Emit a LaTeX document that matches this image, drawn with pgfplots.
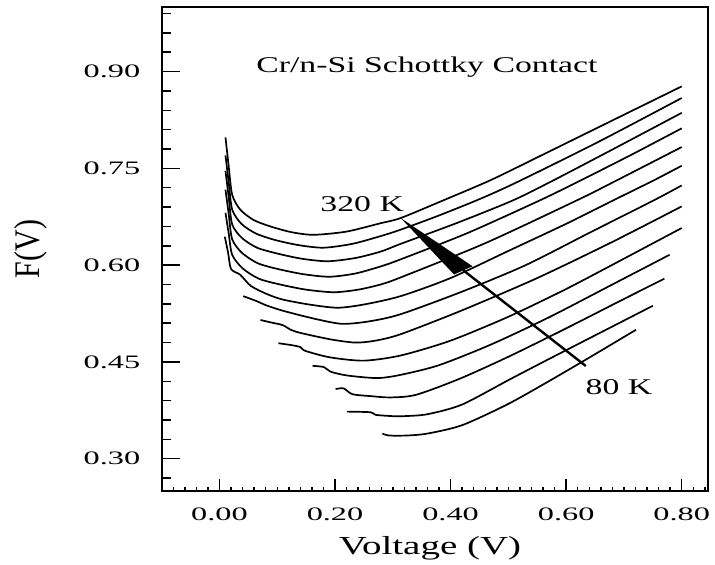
\documentclass[border=0pt]{standalone}
\usepackage{fontspec}
\setmainfont{Liberation Serif}
\newfontfamily\tickfont{Liberation Serif}[FakeStretch=1.7]
\newfontfamily\txtfont{Liberation Serif}[FakeStretch=1.5]
\newfontfamily\ylabfont{Liberation Serif}
\usepackage{pgfplots}
\pgfplotsset{compat=1.18}
\pgfplotsset{cv/.style={black, solid, line width=1.7pt, line join=round, smooth, tension=0.45, mark=none}}
\begin{document}
\begin{tikzpicture}
\useasboundingbox (-161.7pt,-74pt) rectangle (553.3pt,491pt);
\begin{axis}[
  at={(0,0)}, anchor=south west,
  scale only axis, width=546pt, height=484pt,
  xmin=-0.1, xmax=0.845, ymin=0.25, ymax=1.0,
  xtick={0,0.2,0.4,0.6,0.8},
  ytick={0.30,0.45,0.60,0.75,0.90},
  minor xtick={-0.08,-0.06,...,0.84},
  minor ytick={0.27,0.30,...,0.99},
  tick pos=left, tick align=inside,
  axis line style={line width=1.8pt},
  every tick/.style={black, line width=1.5pt},
  major x tick style={/pgfplots/major tick length=12pt},
  minor x tick style={/pgfplots/minor tick length=4.5pt},
  major y tick style={/pgfplots/major tick length=18pt},
  minor y tick style={/pgfplots/minor tick length=9pt},
  /pgf/number format/assume math mode=true,
  /pgf/number format/.cd, fixed, fixed zerofill, precision=2, /pgfplots/.cd,
  xticklabel style={font=\tickfont\fontsize{19}{22}\selectfont, yshift=-13pt},
  yticklabel style={font=\tickfont\fontsize{19}{22}\selectfont, xshift=-18pt},
  xlabel={Voltage (V)},
  xlabel style={font=\txtfont\fontsize{26}{30}\selectfont, at={(axis description cs:0.4914,-0.1322)}, anchor=base},
  ylabel={\scalebox{1}[1.2]{F(V)}},
  ylabel style={font=\ylabfont\fontsize{30}{34}\selectfont, at={(axis description cs:-0.2394,0.5)}, anchor=center},
]
\addplot[cv] coordinates {(0.0104,0.798) (0.016,0.753) (0.022,0.709) (0.036,0.686) (0.059,0.670) (0.088,0.660) (0.125,0.651) (0.163,0.647) (0.22,0.652) (0.279,0.665) (0.3137,0.673) (0.389,0.701) (0.47,0.732) (0.557,0.770) (0.65,0.811) (0.8,0.877)};
\addplot[cv] coordinates {(0.0104,0.770) (0.016,0.728) (0.022,0.686) (0.038,0.664) (0.063,0.649) (0.096,0.639) (0.137,0.631) (0.18,0.627) (0.23,0.633) (0.279,0.645) (0.3137,0.655) (0.38,0.677) (0.452,0.703) (0.516,0.729) (0.658,0.792) (0.8,0.859)};
\addplot[cv] coordinates {(0.0104,0.746) (0.016,0.705) (0.022,0.663) (0.039,0.642) (0.065,0.627) (0.100,0.618) (0.142,0.610) (0.187,0.606) (0.235,0.611) (0.279,0.621) (0.3137,0.633) (0.41,0.665) (0.507,0.700) (0.575,0.730) (0.684,0.781) (0.8,0.836)};
\addplot[cv] coordinates {(0.0104,0.717) (0.016,0.679) (0.022,0.640) (0.039,0.619) (0.066,0.603) (0.101,0.594) (0.145,0.586) (0.19,0.582) (0.235,0.587) (0.279,0.598) (0.3137,0.609) (0.43,0.650) (0.556,0.701) (0.629,0.733) (0.715,0.772) (0.8,0.812)};
\addplot[cv] coordinates {(0.0104,0.681) (0.016,0.649) (0.022,0.616) (0.040,0.595) (0.068,0.579) (0.105,0.570) (0.150,0.562) (0.198,0.558) (0.24,0.562) (0.279,0.570) (0.3137,0.581) (0.46,0.634) (0.620,0.701) (0.689,0.732) (0.8,0.783)};
\addplot[cv] coordinates {(0.0092,0.644) (0.015,0.619) (0.020,0.594) (0.036,0.585) (0.054,0.568) (0.08,0.556) (0.108,0.547) (0.155,0.539) (0.204,0.534) (0.25,0.539) (0.3137,0.552) (0.40,0.580) (0.50,0.622) (0.60,0.664) (0.683,0.701) (0.753,0.732) (0.8,0.754)};
\addplot[cv] coordinates {(0.041,0.552) (0.065,0.544) (0.08,0.538) (0.111,0.529) (0.169,0.516) (0.213,0.509) (0.26,0.513) (0.3137,0.524) (0.42,0.559) (0.53,0.600) (0.64,0.650) (0.753,0.701) (0.8,0.7235)};
\addplot[cv] coordinates {(0.071,0.515) (0.09,0.511) (0.106,0.508) (0.114,0.505) (0.123,0.500) (0.140,0.495) (0.192,0.485) (0.235,0.480) (0.27,0.483) (0.3137,0.493) (0.42,0.530) (0.55,0.580) (0.68,0.636) (0.8,0.691)};
\addplot[cv] coordinates {(0.102,0.479) (0.125,0.476) (0.140,0.473) (0.149,0.467) (0.192,0.457) (0.250,0.452) (0.3137,0.460) (0.40,0.483) (0.50,0.520) (0.60,0.563) (0.70,0.610) (0.8,0.6575)};
\addplot[cv] coordinates {(0.161,0.444) (0.181,0.442) (0.192,0.435) (0.221,0.429) (0.273,0.425) (0.3137,0.430) (0.38,0.445) (0.47,0.477) (0.57,0.519) (0.68,0.570) (0.779,0.616)};
\addplot[cv] coordinates {(0.201,0.408) (0.215,0.409) (0.230,0.400) (0.262,0.397) (0.296,0.395) (0.34,0.399) (0.415,0.4237) (0.50,0.458) (0.60,0.502) (0.69,0.543) (0.770,0.579)};
\addplot[cv] coordinates {(0.221,0.373) (0.262,0.372) (0.270,0.368) (0.30,0.366) (0.32,0.366) (0.36,0.369) (0.42,0.384) (0.504,0.4237) (0.58,0.459) (0.665,0.498) (0.75,0.537)};
\addplot[cv] coordinates {(0.282,0.339) (0.293,0.336) (0.325,0.336) (0.36,0.339) (0.42,0.352) (0.50,0.385) (0.577,0.4237) (0.65,0.462) (0.721,0.4999)};
% arrow
\fill[black] (axis cs:0.3137,0.673) -- (axis cs:0.406,0.5855) -- (axis cs:0.438,0.5983) -- cycle;
\draw[black, line width=2.4pt] (axis cs:0.422,0.592) -- (axis cs:0.634,0.4437);
% texts
\node[font=\txtfont\fontsize{22.5}{26}\selectfont, anchor=base] at (axis cs:0.359,0.899) {Cr/n-Si Schottky Contact};
\node[font=\txtfont\fontsize{22.5}{26}\selectfont, anchor=base] at (axis cs:0.247,0.683) {320 K};
\node[font=\txtfont\fontsize{22.5}{26}\selectfont, anchor=base] at (axis cs:0.6915,0.399) {80 K};
\end{axis}
\end{tikzpicture}
\end{document}
